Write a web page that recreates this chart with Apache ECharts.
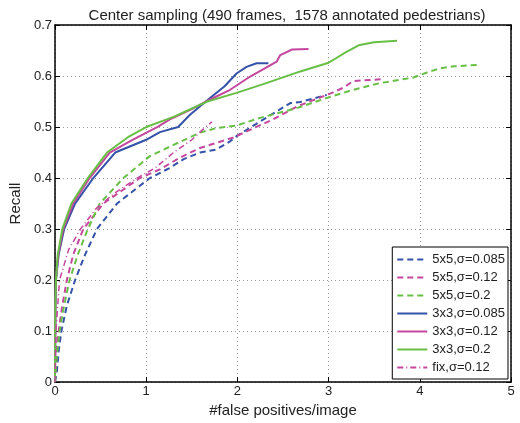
<!DOCTYPE html>
<html>
<head>
<meta charset="utf-8">
<script src="https://cdn.jsdelivr.net/npm/echarts@6/dist/echarts.min.js"></script>
<style>
  html, body { margin: 0; padding: 0; background: #fff; }
  #chart { width: 520px; height: 423px; }
</style>
</head>
<body>
<div id="chart"></div>
<script>
// series names (legend order)
const names = ['5x5,σ=0.085', '5x5,σ=0.12', '5x5,σ=0.2', '3x3,σ=0.085', '3x3,σ=0.12', '3x3,σ=0.2', 'fix,σ=0.12']

// [false positives per image, recall]
const dash5x5_085 = [[0,0],[0.02,0.02],[0.04,0.06],[0.07,0.1],[0.13,0.15],[0.22,0.2],[0.33,0.25],[0.46,0.3],[0.68,0.35],[1.04,0.4],[1.26,0.42],[1.41,0.437],[1.59,0.45],[1.77,0.456],[1.92,0.472],[1.99,0.482],[2.25,0.511],[2.58,0.547],[2.69,0.549],[2.98,0.563]]
const dash5x5_12 = [[0,0],[0.01,0.05],[0.04,0.1],[0.08,0.15],[0.13,0.2],[0.2,0.25],[0.31,0.3],[0.53,0.35],[0.93,0.4],[1.15,0.417],[1.37,0.44],[1.59,0.459],[1.95,0.479],[2.39,0.515],[2.65,0.54],[3.05,0.568],[3.16,0.577],[3.27,0.59],[3.6,0.594]]
const dash5x5_2 = [[0,0],[0.02,0.05],[0.05,0.1],[0.1,0.15],[0.16,0.2],[0.25,0.25],[0.36,0.3],[0.49,0.35],[0.75,0.4],[1.04,0.443],[1.3,0.465],[1.59,0.489],[1.77,0.498],[1.99,0.503],[2.25,0.518],[2.65,0.537],[2.98,0.557],[3.27,0.573],[3.56,0.586],[3.93,0.597],[4.08,0.607],[4.22,0.615],[4.37,0.619],[4.66,0.622]]
const solid3x3_085 = [[0,0],[0.005,0.15],[0.01,0.2],[0.04,0.25],[0.1,0.3],[0.22,0.35],[0.42,0.4],[0.66,0.45],[1.0,0.475],[1.15,0.49],[1.35,0.5],[1.48,0.524],[1.7,0.557],[1.86,0.58],[1.99,0.605],[2.1,0.618],[2.21,0.625],[2.34,0.625]]
const solid3x3_12 = [[0,0],[0.004,0.15],[0.01,0.2],[0.035,0.25],[0.09,0.3],[0.2,0.35],[0.38,0.4],[0.6,0.45],[0.85,0.475],[1.12,0.5],[1.26,0.515],[1.5,0.535],[1.7,0.554],[1.92,0.573],[2.14,0.599],[2.3,0.615],[2.43,0.628],[2.47,0.641],[2.6,0.652],[2.78,0.653]]
const solid3x3_2 = [[0,0],[0.003,0.15],[0.01,0.2],[0.03,0.25],[0.08,0.3],[0.18,0.35],[0.36,0.4],[0.57,0.45],[0.8,0.48],[1.0,0.5],[1.3,0.52],[1.67,0.55],[1.99,0.567],[2.3,0.585],[2.69,0.609],[3.0,0.626],[3.2,0.648],[3.34,0.661],[3.5,0.666],[3.75,0.669]]
const fix_12 = [[0,0],[0.01,0.1],[0.05,0.2],[0.15,0.26],[0.28,0.3],[0.45,0.34],[0.65,0.37],[0.9,0.4],[1.1,0.42],[1.3,0.45],[1.5,0.475],[1.65,0.5],[1.72,0.51]]

const xTicks = [0, 1, 2, 3, 4, 5]
const yTicks = [0, 0.1, 0.2, 0.3, 0.4, 0.5, 0.6, 0.7]

const blue = '#3352a8'
const pink = '#c4479e'
const green = '#68bf45'
const font = 'Liberation Sans, Arial, sans-serif'

function line(name, data, color, type, width) {
  return {
    name: name,
    type: 'line',
    data: data,
    showSymbol: false,
    symbol: 'none',
    lineStyle: { color: color, type: type, width: width },
    itemStyle: { color: color },
    animation: false
  }
}

const chart = echarts.init(document.getElementById('chart'))

const axisCommon = {
  axisLine: { show: true, onZero: false, lineStyle: { color: '#000', width: 1.5 } },
  axisTick: { show: true, inside: true, length: 5, lineStyle: { color: '#000' } }
}

chart.setOption({
  backgroundColor: '#fff',
  title: {
    text: 'Center sampling (490 frames,  1578 annotated pedestrians)',
    left: 282, top: 3, textAlign: 'center',
    textStyle: { fontFamily: font, fontSize: 15, fontWeight: 'normal', color: '#222' }
  },
  grid: { left: 55, right: 9, top: 25, bottom: 39 },
  legend: {
    orient: 'vertical',
    right: 12, top: 247,
    data: names,
    itemWidth: 30, itemHeight: 14, itemGap: 5,
    padding: [6, 3, 5, 4],
    backgroundColor: '#fff',
    borderColor: '#000', borderWidth: 1,
    itemStyle: { opacity: 0 },
    textStyle: { fontFamily: font, fontSize: 13, color: '#222' }
  },
  xAxis: [{
    type: 'value', min: xTicks[0], max: xTicks[xTicks.length - 1], interval: 1,
    name: '#false positives/image', nameLocation: 'middle', nameGap: 19,
    nameTextStyle: { fontFamily: font, fontSize: 15, color: '#222' },
    axisLabel: { fontFamily: font, fontSize: 13, color: '#222', margin: 3 },
    splitLine: { show: true, lineStyle: { color: '#999', type: [1, 3] } },
    ...axisCommon
  }, {
    type: 'value', position: 'top', min: 0, max: 5, interval: 1,
    axisLabel: { show: false }, splitLine: { show: false },
    ...axisCommon
  }],
  yAxis: [{
    type: 'value', min: yTicks[0], max: yTicks[yTicks.length - 1], interval: 0.1,
    name: 'Recall', nameLocation: 'middle', nameGap: 27,
    nameTextStyle: { fontFamily: font, fontSize: 15, color: '#222' },
    axisLabel: { fontFamily: font, fontSize: 13, color: '#222', margin: 3 },
    splitLine: { show: true, lineStyle: { color: '#999', type: [1, 3] } },
    ...axisCommon
  }, {
    type: 'value', position: 'right', min: 0, max: 0.7, interval: 0.1,
    axisLabel: { show: false }, splitLine: { show: false },
    ...axisCommon
  }],
  series: [
    line(names[0], dash5x5_085, blue, [6, 4], 2),
    line(names[1], dash5x5_12, pink, [6, 4], 2),
    line(names[2], dash5x5_2, green, [6, 4], 2),
    line(names[3], solid3x3_085, blue, 'solid', 2),
    line(names[4], solid3x3_12, pink, 'solid', 2),
    line(names[5], solid3x3_2, green, 'solid', 2),
    line(names[6], fix_12, pink, [6, 3, 1, 3], 1.5)
  ]
})
</script>
</body>
</html>
